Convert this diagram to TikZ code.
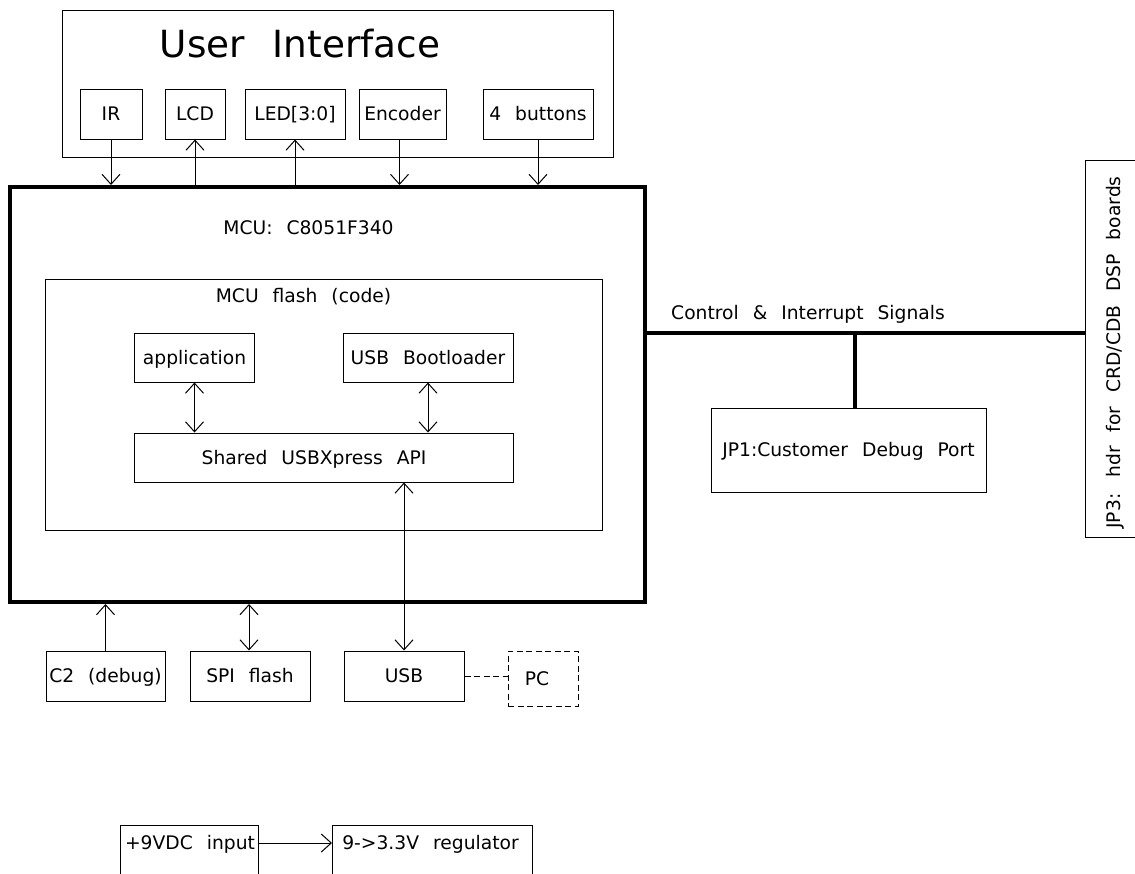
\documentclass[tikz,border=0pt]{standalone}
\usepackage{fontspec}
\setmainfont{DejaVu Sans}[WordSpace=2.35]
\usetikzlibrary{arrows.meta}
\begin{document}
\begin{tikzpicture}[x=1pt,y=-1pt,
  txt/.style={font=\fontsize{18.7}{21}\selectfont, text height=13.6pt, text depth=0pt},
  box/.style={draw, line width=1pt, inner sep=0pt, txt},
  lbl/.style={inner sep=0pt, txt},
  wire/.style={line width=1pt},
  bus/.style={line width=4pt},
  arr/.style={line width=1pt, -{Straight Barb[length=10pt,width=18pt]}},
  darr/.style={line width=1pt, {Straight Barb[length=10pt,width=18pt]}-{Straight Barb[length=10pt,width=18pt]}},
]
\useasboundingbox (0,0) rectangle (1135,873);
\fill[white] (0,0) rectangle (1135,873);
\clip (0,0) rectangle (1135,873);

% User interface
\node[box, minimum width=551, minimum height=147] (ui) at (337.5,83.5) {};
\node[lbl, font=\fontsize{37.4}{40}\selectfont, text height=27pt] (uit) at (300,44) {User Interface};
\node[box, minimum width=62, minimum height=50] (ir) at (111,114) {IR};
\node[box, minimum width=60, minimum height=50] (lcd) at (195,114) {LCD};
\node[box, minimum width=100, minimum height=50] (led) at (295,114) {LED[3:0]};
\node[box, minimum width=87, minimum height=50] (enc) at (402.5,114) {Encoder};
\node[box, minimum width=110, minimum height=50] (btn) at (538,114) {4 buttons};

% MCU
\node[draw, line width=4pt, inner sep=0pt, minimum width=635, minimum height=415] (mcu) at (327.5,394.5) {};
\node[lbl] (mcut) at (308.5,228) {MCU: C8051F340};
\node[box, minimum width=557, minimum height=251] (flash) at (323.5,404.5) {};
\node[lbl] (flasht) at (303.5,296) {MCU flash (code)};
\node[box, minimum width=120, minimum height=49] (app) at (194.5,357.5) {application};
\node[box, minimum width=170, minimum height=49] (boot) at (428,357.5) {USB Bootloader};
\node[box, minimum width=379, minimum height=49] (api) at (323.5,457.5) {};
\node[lbl] (apit) at (314,457.5) {Shared USBXpress API};

% bottom peripherals
\node[box, minimum width=119, minimum height=50] (c2) at (105.5,676) {C2 (debug)};
\node[box, minimum width=120, minimum height=50] (spi) at (250,676) {SPI flash};
\node[box, minimum width=120, minimum height=50] (usb) at (404,676) {USB};
\node[box, dash pattern=on 6pt off 3.5pt, minimum width=70, minimum height=55] (pc) at (543,678.5) {};
\node[lbl] (pct) at (537,679) {PC};

% right side
\node[box, minimum width=275, minimum height=84] (jp1) at (848.5,450) {JP1:Customer Debug Port};
\node[box, minimum width=60, minimum height=377] (jp3) at (1115,348.5) {};
\node[lbl, rotate=90] (jp3t) at (1114,352.5) {JP3: hdr for CRD/CDB DSP boards};

% power
\node[box, minimum width=138, minimum height=74] (pwr) at (189.5,862) {};
\node[box, minimum width=200, minimum height=74] (reg) at (432.5,862) {};
\node[lbl] (pwrt) at (190,843) {+9VDC input};
\node[lbl] (regt) at (430.5,843) {9{-}>3.3V regulator};

% UI connections
\draw[arr] (ir.south) -- (ir.south |- mcu.north);
\draw[arr] (lcd.south |- mcu.north) -- (lcd.south);
\draw[arr] (led.south |- mcu.north) -- (led.south);
\draw[arr] ([xshift=-3pt]enc.south) -- ([xshift=-3pt]enc.south |- mcu.north);
\draw[arr] (btn.south) -- (btn.south |- mcu.north);

% internal
\draw[darr] (app.south) -- (app.south |- api.north);
\draw[darr] (boot.south) -- (boot.south |- api.north);
\draw[darr] (usb.north) -- (usb.north |- api.south);

% bottom
\draw[arr] (c2.north) -- (c2.north |- mcu.south);
\draw[darr] ([xshift=-1pt]spi.north) -- ([xshift=-1pt]spi.north |- mcu.south);
\draw[wire, dash pattern=on 6pt off 3.5pt] (usb.east) -- (usb.east -| pc.west);

% bus
\coordinate (busy) at (700,333);
\coordinate (tap) at (855,333);
\draw[bus] (mcu.east |- busy) -- (jp3.west |- busy);
\draw[bus] (tap) -- (tap |- jp1.north);
\node[lbl, anchor=west] (bust) at (671,313) {Control \& Interrupt Signals};

% power arrow
\draw[arr] (pwr.east |- pwrt) -- (reg.west |- pwrt);
\end{tikzpicture}
\end{document}
